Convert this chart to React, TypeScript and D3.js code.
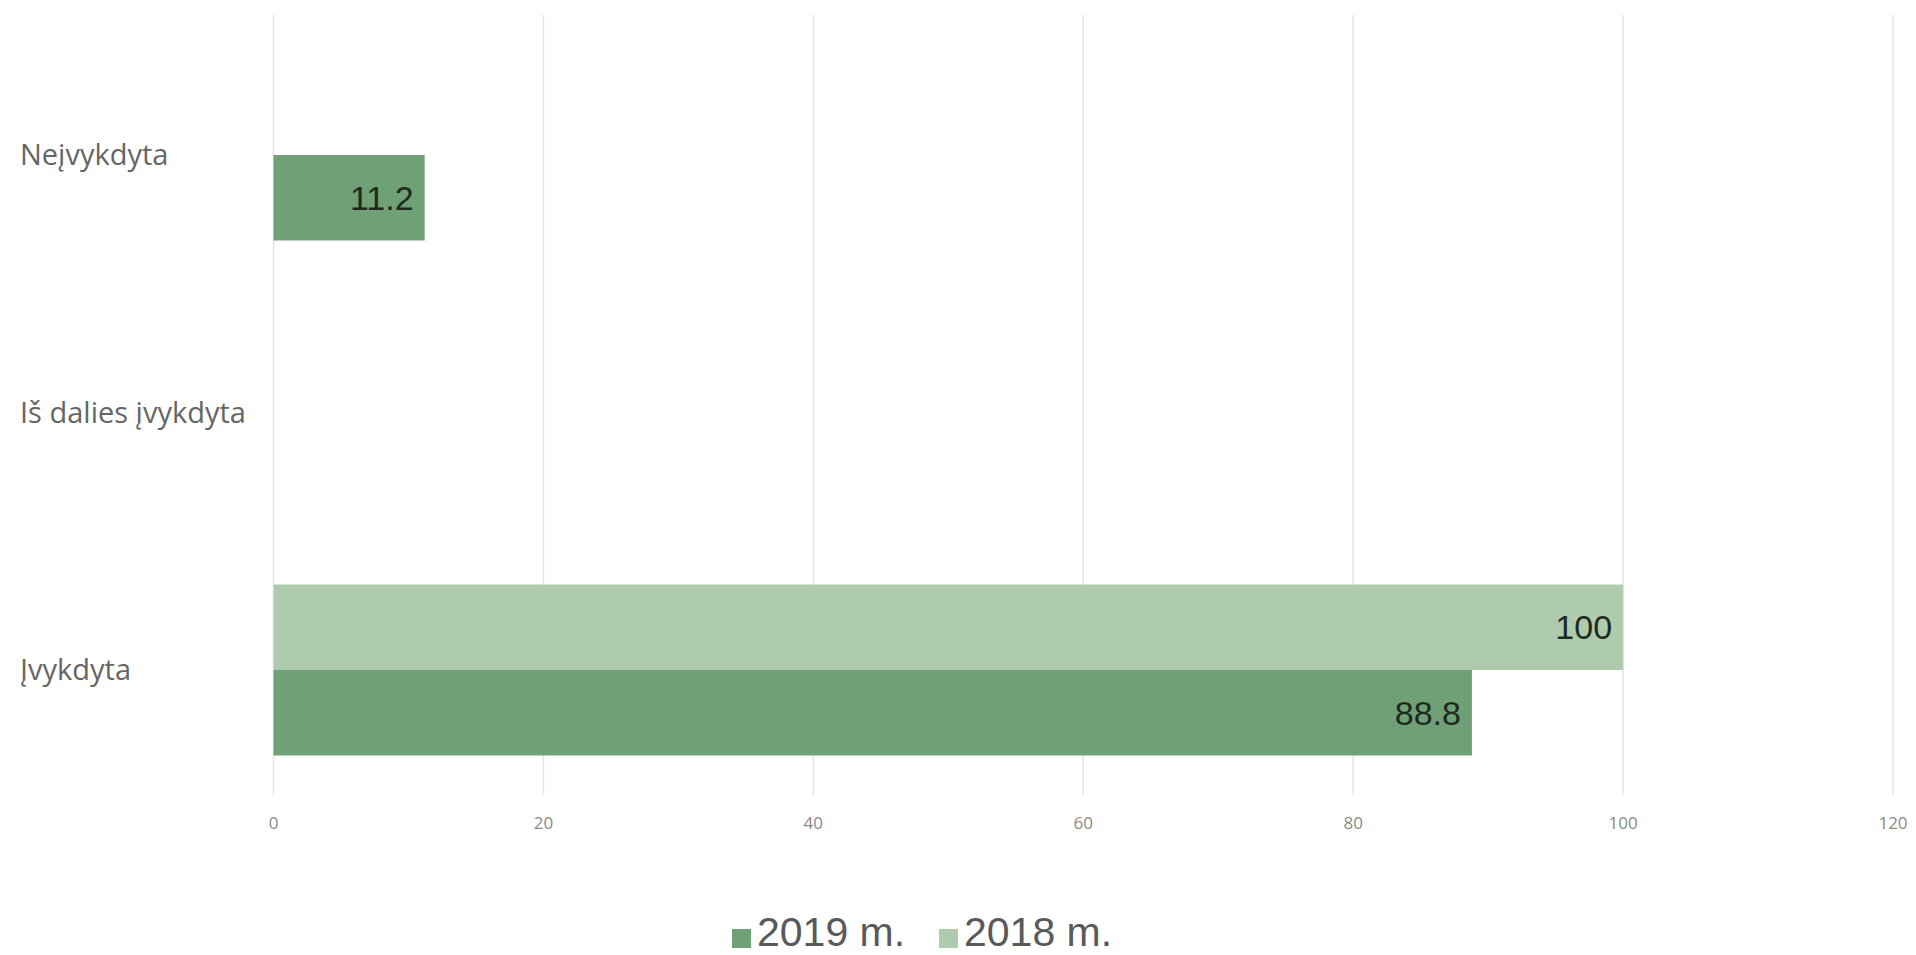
import React from "react";
import * as d3 from "d3";

const categories = ["Neįvykdyta", "Iš dalies įvykdyta", "Įvykdyta"];
const seriesNames = ["2018 m.", "2019 m."];
const values2018 = [0, 0, 100];
const values2019 = [11.2, 0, 88.8];
const xTicks = [0, 20, 40, 60, 80, 100, 120];
const legendItems = ["2019 m.", "2018 m."];

const W = 1916;
const H = 955;
const COLORS: Record<string, string> = { "2019 m.": "#70a076", "2018 m.": "#afcbae" };

export default function App() {
  const x = d3.scaleLinear().domain([0, 120]).range([273.5, 1893]);
  const y = d3
    .scaleBand<string>()
    .domain(categories)
    .range([26.25, 798.75])
    .paddingInner(0.336)
    .paddingOuter(0.168);
  const inner = d3.scaleBand<string>().domain(seriesNames).range([0, y.bandwidth()]);
  const seriesValues: Record<string, number[]> = { "2018 m.": values2018, "2019 m.": values2019 };

  const legendX = [732, 939];

  return (
    <svg
      width={W}
      height={H}
      style={{ position: "absolute", left: 0, top: 0, background: "#fff" }}
    >
      {xTicks.map((t) => (
        <line key={"g" + t} x1={x(t)} x2={x(t)} y1={15} y2={795} stroke="#e4e4e4" strokeWidth={1.5} />
      ))}
      {xTicks.map((t) => (
        <text
          key={"t" + t}
          x={x(t)}
          y={829}
          textAnchor="middle"
          fontFamily="'Open Sans', sans-serif"
          fontSize={17}
          fill="#8a8a8a"
        >
          {t}
        </text>
      ))}
      {categories.map((c) => (
        <text
          key={"c" + c}
          x={20}
          y={(y(c) as number) + y.bandwidth() / 2 + 10}
          fontFamily="'Open Sans', sans-serif"
          fontSize={29}
          fill="#666"
        >
          {c}
        </text>
      ))}
      {seriesNames.map((s) =>
        categories.map((c, i) => {
          const v = seriesValues[s][i];
          if (!v) return null;
          const y0 = (y(c) as number) + (inner(s) as number);
          const h = inner.bandwidth();
          return (
            <g key={s + c}>
              <rect x={x(0)} y={y0} width={x(v) - x(0)} height={h} fill={COLORS[s]} />
              <text
                x={x(v) - 11}
                y={y0 + h / 2 + 12}
                textAnchor="end"
                fontFamily="'Liberation Sans', Arial, sans-serif"
                fontSize={34}
                fill="#1f2a1f"
              >
                {v}
              </text>
            </g>
          );
        })
      )}
      {legendItems.map((s, i) => (
        <g key={"l" + s}>
          <rect x={legendX[i]} y={929} width={19} height={19} fill={COLORS[s]} />
          <text
            x={legendX[i] + 25}
            y={946}
            fontFamily="'Liberation Sans', Arial, sans-serif"
            fontSize={41}
            fill="#595959"
          >
            {s}
          </text>
        </g>
      ))}
    </svg>
  );
}
